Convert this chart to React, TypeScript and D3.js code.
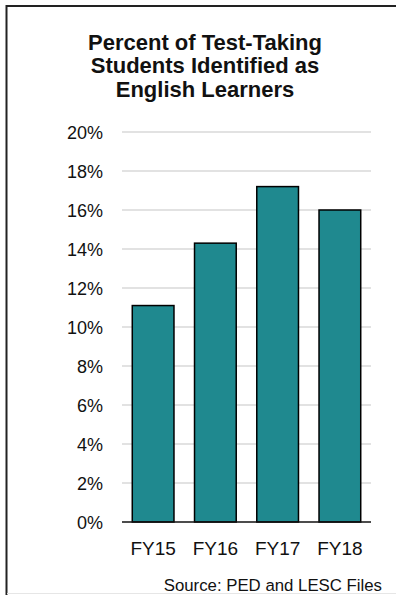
import React from "react";
import * as d3 from "d3";

const categories = ["FY15", "FY16", "FY17", "FY18"];
const values = [11.1, 14.3, 17.2, 16.0];
const yTicks = [0, 2, 4, 6, 8, 10, 12, 14, 16, 18, 20];
const titleLines = ["Percent of Test-Taking", "Students Identified as", "English Learners"];
const source = "Source: PED and LESC Files";

const W = 396;
const H = 595;
const FONT = "'Liberation Sans', Arial, sans-serif";

export default function App() {
  const x = d3.scaleBand<string>().domain(categories).range([122, 371]).paddingInner(0.33).paddingOuter(0.165);
  const y = d3.scaleLinear().domain([0, 20]).range([522, 132]);

  return (
    <svg width={W} height={H} style={{ position: "absolute", left: 0, top: 0 }}>
      <rect x={0} y={0} width={W} height={H} fill="#fff" />
      {/* frame */}
      <line x1={6.5} y1={6} x2={W} y2={6} stroke="#222" strokeWidth={2} />
      <line x1={6.5} y1={5} x2={6.5} y2={H} stroke="#222" strokeWidth={2} />
      <line x1={7} y1={593.5} x2={W} y2={593.5} stroke="#e6e6e6" strokeWidth={1} />
      {titleLines.map((t, i) => (
        <text key={i} x={205} y={50 + i * 23.3} textAnchor="middle" fontFamily={FONT} fontWeight="bold" fontSize={22} fill="#111">
          {t}
        </text>
      ))}
      {yTicks.map((t) => (
        <g key={t}>
          {t > 0 && <line x1={122} x2={371} y1={y(t)} y2={y(t)} stroke="#d9d9d9" strokeWidth={1.5} />}
          <text x={103} y={y(t) + 6.5} textAnchor="end" fontFamily={FONT} fontSize={18} fill="#111">
            {t + "%"}
          </text>
        </g>
      ))}
      {categories.map((c, i) => (
        <rect
          key={c}
          x={x(c)}
          y={y(values[i])}
          width={x.bandwidth()}
          height={y(0) - y(values[i])}
          fill="#1f898f"
          stroke="#000"
          strokeWidth={1.5}
        />
      ))}
      <line x1={122} x2={371} y1={y(0)} y2={y(0)} stroke="#111" strokeWidth={1.5} />
      {categories.map((c) => (
        <text key={c} x={(x(c) as number) + x.bandwidth() / 2} y={555} textAnchor="middle" fontFamily={FONT} fontSize={19} fill="#111">
          {c}
        </text>
      ))}
      <text x={382} y={591} textAnchor="end" fontFamily={FONT} fontSize={16.8} fill="#111">
        {source}
      </text>
    </svg>
  );
}
